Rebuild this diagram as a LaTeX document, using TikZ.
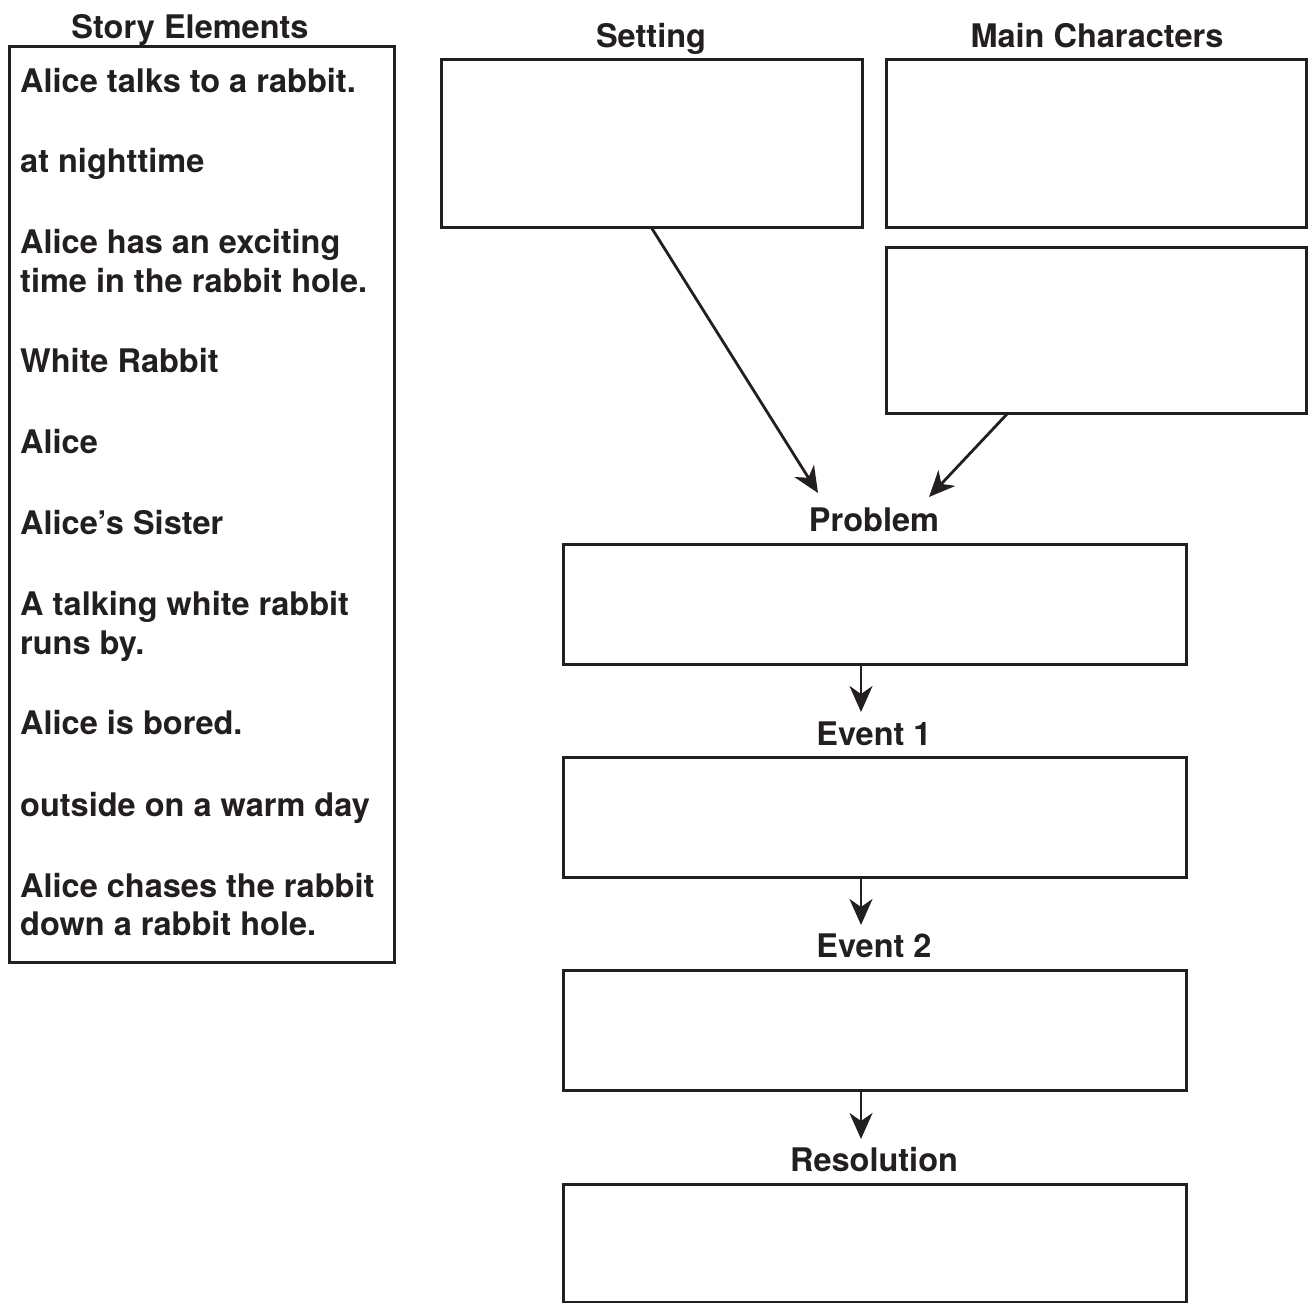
\documentclass[tikz,border=0pt]{standalone}
\usepackage{fontspec}
\setmainfont{TeX Gyre Heros}
\usetikzlibrary{arrows.meta}
\definecolor{ink}{HTML}{231F20}
\tikzset{
  box/.style={draw=ink, line width=3pt, inner sep=0pt},
  lbl/.style={font=\bfseries\fontsize{32.5}{39}\selectfont, text=ink, inner sep=0pt},
  item/.style={lbl, anchor=base west},
  ttl/.style={lbl, anchor=base},
  arr/.style={draw=ink, line width=2.8pt, -{Stealth[length=26pt,width=23pt,inset=8pt]}}
}
\begin{document}
\begin{tikzpicture}[x=1pt,y=-1pt]
\useasboundingbox (0,0) rectangle (1312,1303);
% story elements
\node[ttl] (tstory) at (190,39) {Story Elements};
\node[box, minimum width=385, minimum height=915] (story) at (201.5,504.5) {};
\node[item] (i1) at (20,93) {Alice talks to a rabbit.};
\node[item] (i2) at (20,172) {at nighttime};
\node[item] (i3a) at (20,253) {Alice has an exciting};
\node[item] (i3b) at (20,292) {time in the rabbit hole.};
\node[item] (i4) at (20,372) {White Rabbit};
\node[item] (i5) at (20,453) {Alice};
\node[item] (i6) at (20,534) {Alice’s Sister};
\node[item] (i7a) at (20,615) {A talking white rabbit};
\node[item] (i7b) at (20,654) {runs by.};
\node[item] (i8) at (20,734) {Alice is bored.};
\node[item] (i9) at (20,816) {outside on a warm day};
\node[item] (i10a) at (20,897) {Alice chases the rabbit};
\node[item] (i10b) at (20,935) {down a rabbit hole.};
% top boxes
\node[ttl] (tset) at (651,48) {Setting};
\node[box, minimum width=421, minimum height=167] (setting) at (651.5,143.5) {};
\node[ttl] (tmc) at (1097,48) {Main Characters};
\node[box, minimum width=420, minimum height=167] (mc1) at (1096,143.5) {};
\node[box, minimum width=420, minimum height=166] (mc2) at (1096,330) {};
% flow boxes
\node[ttl] (tprob) at (874,531) {Problem};
\node[box, minimum width=623, minimum height=120] (prob) at (874.5,604) {};
\node[ttl] (tev1) at (874,745) {Event 1};
\node[box, minimum width=623, minimum height=120] (ev1) at (874.5,817) {};
\node[ttl] (tev2) at (874,957) {Event 2};
\node[box, minimum width=623, minimum height=120] (ev2) at (874.5,1030) {};
\node[ttl] (tres) at (874,1171) {Resolution};
\node[box, minimum width=623, minimum height=118] (res) at (874.5,1243) {};
% connectors
\coordinate (s1) at (651,227);
\coordinate (e1) at (818,493);
\coordinate (s2) at (1008,413);
\coordinate (e2) at (929,497);
\draw[arr] (s1) -- (e1);
\draw[arr] (s2) -- (e2);
\coordinate (p1) at (861,664);
\coordinate (q1) at (861,712);
\coordinate (p2) at (861,877);
\coordinate (q2) at (861,925);
\coordinate (p3) at (861,1090);
\coordinate (q3) at (861,1139);
\draw[arr] (p1) -- (q1);
\draw[arr] (p2) -- (q2);
\draw[arr] (p3) -- (q3);
\end{tikzpicture}
\end{document}
